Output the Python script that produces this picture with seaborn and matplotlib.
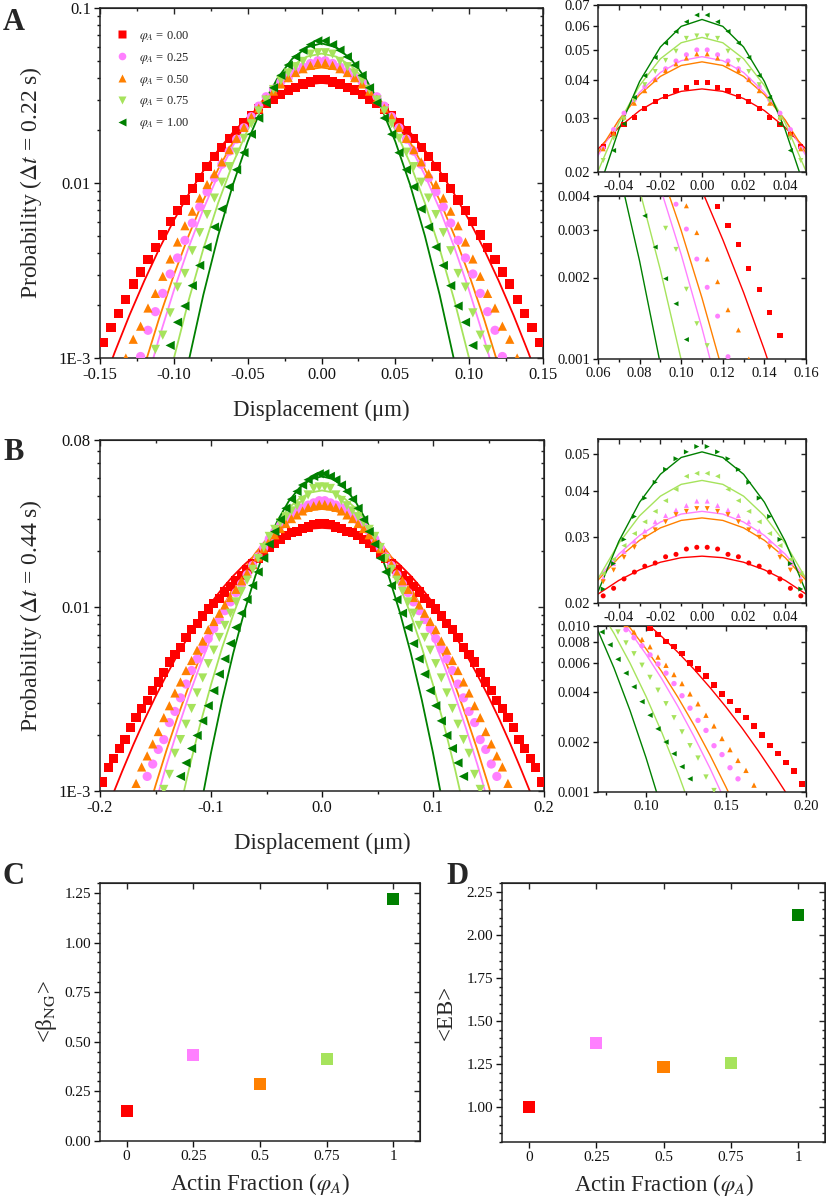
import matplotlib.pyplot as plt
import numpy as np
import pandas as pd
import seaborn as sns
from matplotlib.lines import Line2D
from matplotlib.ticker import FormatStrFormatter, LogLocator, MultipleLocator, NullFormatter

# ---- data ----------------------------------------------------------------
# The displacement histograms are symmetric, so only the x >= 0 half is kept
# (bin centres 0.0025, 0.0075, ... ; fit curves sampled at 0, 0.01, 0.02, ...)
phi_labels = ['0.00', '0.25', '0.50', '0.75', '1.00']
phi_values = [0, 0.25, 0.5, 0.75, 1]
colors = ['#ff0000', '#ff80ff', '#ff8000', '#a6e35c', '#008000']
BIN0, BIN_STEP, FIT_STEP = 0.0025, 0.005, 0.01

# panel A, dt = 0.22 s
red_A = [0.0391, 0.0378, 0.0368, 0.0353, 0.0340, 0.0321, 0.0302, 0.0285, 0.0265, 0.0243,
         0.0222, 0.0200, 0.0180, 0.0160, 0.0141, 0.0124, 0.0108, 0.0093, 0.0080, 0.00695,
         0.0060, 0.00505, 0.0043, 0.00365, 0.0031, 0.00265, 0.00216, 0.0018, 0.00149, 0.00122]
pink_A = [0.0500, 0.0482, 0.0460, 0.0434, 0.0400, 0.0379, 0.0344, 0.0311, 0.0275, 0.0239,
          0.0207, 0.0178, 0.0152, 0.0128, 0.0107, 0.0089, 0.0073, 0.0059, 0.0047, 0.00373,
          0.00302, 0.00234, 0.00184, 0.00144, 0.00102]
orange_A = [0.0485, 0.0470, 0.0450, 0.0428, 0.0400, 0.0368, 0.0335, 0.0302, 0.0268, 0.0238,
            0.0208, 0.0180, 0.0155, 0.0132, 0.0113, 0.0098, 0.0082, 0.0069, 0.0057, 0.0046,
            0.00368, 0.00293, 0.00234, 0.00193, 0.00152, 0.00128, 0.00100]
lgreen_A = [0.0555, 0.0545, 0.0495, 0.0462, 0.0425, 0.0385, 0.0342, 0.0298, 0.0258, 0.0218,
            0.0180, 0.0150, 0.0124, 0.0101, 0.0082, 0.0066, 0.0052, 0.0041, 0.00304, 0.00254,
            0.00181, 0.00135, 0.00112]
dgreen_A = [0.0649, 0.0617, 0.0574, 0.0526, 0.0472, 0.0412, 0.0350, 0.0287, 0.0235, 0.0190,
            0.0149, 0.0119, 0.0095, 0.0071, 0.0056, 0.0043, 0.00338, 0.00259, 0.00198, 0.0016,
            0.00118]

fit_red_A = [0.0373, 0.03663, 0.0347, 0.0317, 0.02793, 0.02374, 0.01946, 0.01539, 0.01173,
             0.00863, 0.00612, 0.00419, 0.00276, 0.00176, 0.00108, 0.00064]
fit_pink_A = [0.0475, 0.04611, 0.04218, 0.03636, 0.02953, 0.0226, 0.0163, 0.01108, 0.0071,
              0.00428, 0.00243, 0.0013, 0.000659]
fit_orange_A = [0.0457, 0.04447, 0.04097, 0.03574, 0.02953, 0.02309, 0.0171, 0.01199, 0.00796,
                0.005, 0.00298, 0.00168, 0.000896]
fit_lgreen_A = [0.0549, 0.05274, 0.04676, 0.03826, 0.02889, 0.02013, 0.01295, 0.00769, 0.00421,
                0.00213, 0.000993]
fit_dgreen_A = [0.0628, 0.05963, 0.05108, 0.03944, 0.02747, 0.01725, 0.00977, 0.00499, 0.0023,
                0.000955]

# panel B, dt = 0.44 s
red_B = [0.0282, 0.0279, 0.0270, 0.0266, 0.0256, 0.0251, 0.0242, 0.0232, 0.0219, 0.0209,
         0.0195, 0.0182, 0.0170, 0.0159, 0.0148, 0.0138, 0.0129, 0.0120, 0.0111, 0.0104,
         0.0097, 0.0089, 0.0081, 0.0075, 0.0068, 0.0060, 0.0055, 0.0050, 0.0044, 0.0039,
         0.0035, 0.0031, 0.0028, 0.0025, 0.0022, 0.0019, 0.0017, 0.0015, 0.00134, 0.00112]
pink_B = [0.0375, 0.0365, 0.0355, 0.0343, 0.0330, 0.0312, 0.0293, 0.0275, 0.0255, 0.0233,
          0.0208, 0.0186, 0.0167, 0.0149, 0.0133, 0.0119, 0.0106, 0.0095, 0.0085, 0.0076,
          0.0067, 0.0059, 0.0052, 0.0045, 0.0038, 0.0032, 0.0027, 0.00235, 0.0019, 0.00168,
          0.0014, 0.0012]
orange_B = [0.0358, 0.0352, 0.0345, 0.0330, 0.0314, 0.0300, 0.0282, 0.0265, 0.0245, 0.0228,
            0.0206, 0.0186, 0.0169, 0.0152, 0.0138, 0.0124, 0.0112, 0.0102, 0.0092, 0.0083,
            0.0075, 0.0065, 0.0058, 0.0051, 0.0045, 0.0039, 0.0034, 0.0029, 0.0025, 0.0021,
            0.0018, 0.00155, 0.00135, 0.0011]
lgreen_B = [0.0445, 0.0437, 0.0403, 0.0376, 0.0352, 0.0330, 0.0307, 0.0285, 0.0262, 0.0240,
            0.0209, 0.0182, 0.0159, 0.0139, 0.0121, 0.0106, 0.0092, 0.0079, 0.0068, 0.0058,
            0.0049, 0.0041, 0.0034, 0.0028, 0.0023, 0.0019, 0.0016, 0.00123, 0.00102]
dgreen_B = [0.0525, 0.0508, 0.0487, 0.0456, 0.0421, 0.0382, 0.0341, 0.0296, 0.0255, 0.0218,
            0.0183, 0.0154, 0.0130, 0.0109, 0.0092, 0.0077, 0.0063, 0.0052, 0.0043, 0.0035,
            0.0029, 0.0024, 0.0020, 0.0017, 0.00142, 0.0012]

fit_red_B = [0.0267, 0.02645, 0.02572, 0.02454, 0.02299, 0.02113, 0.01906, 0.01687, 0.01466,
             0.01251, 0.01047, 0.0086, 0.00694, 0.00549, 0.00426, 0.00325, 0.00243, 0.00178,
             0.00128, 0.000908, 0.000631]
fit_pink_B = [0.0352, 0.03462, 0.03295, 0.03034, 0.02703, 0.0233, 0.01943, 0.01568, 0.01224,
              0.00925, 0.00676, 0.00478, 0.00327, 0.00216, 0.00139, 0.000859]
fit_orange_B = [0.0338, 0.03329, 0.03179, 0.02944, 0.02645, 0.02303, 0.01946, 0.01594, 0.01266,
                0.00976, 0.00729, 0.00528, 0.00371, 0.00253, 0.00167, 0.00107, 0.000666]
fit_lgreen_B = [0.0426, 0.04158, 0.03866, 0.03425, 0.0289, 0.02324, 0.0178, 0.01299, 0.00903,
                0.00598, 0.00377, 0.00227, 0.0013, 0.000708]
fit_dgreen_B = [0.0508, 0.04908, 0.04425, 0.03724, 0.02925, 0.02144, 0.01467, 0.00937, 0.00558,
                0.0031, 0.00161, 0.000781]

# panels C and D
beta_ng = [0.152, 0.431, 0.287, 0.411, 1.217]
eb = [1.003, 1.376, 1.235, 1.255, 2.115]

# ---- style ---------------------------------------------------------------
sns.set_style('ticks')
plt.rcParams['font.family'] = ['Liberation Serif', 'DejaVu Serif']
plt.rcParams['mathtext.fontset'] = 'stix'
plt.rcParams['axes.unicode_minus'] = False
plt.rcParams['axes.edgecolor'] = '#222222'
palette = dict(zip(phi_labels, colors))
main_markers = ['s', 'o', '^', 'v', '<']
insetB_markers = ['o', '^', 'v', '<', '>']


def mirror(half, first, step):
    x = first + step * np.arange(len(half))
    y = np.asarray(half, dtype=float)
    if first == 0:
        return np.r_[-x[:0:-1], x], np.r_[y[:0:-1], y]
    return np.r_[-x[::-1], x], np.r_[y[::-1], y]


def table(halves, first, step):
    frames = []
    for lab, half in zip(phi_labels, halves):
        x, y = mirror(half, first, step)
        frames.append(pd.DataFrame({'x': x, 'p': y, 'phi': lab}))
    return pd.concat(frames, ignore_index=True)


pts_A = table([red_A, pink_A, orange_A, lgreen_A, dgreen_A], BIN0, BIN_STEP)
fits_A = table([fit_red_A, fit_pink_A, fit_orange_A, fit_lgreen_A, fit_dgreen_A], 0.0, FIT_STEP)
pts_B = table([red_B, pink_B, orange_B, lgreen_B, dgreen_B], BIN0, BIN_STEP)
fits_B = table([fit_red_B, fit_pink_B, fit_orange_B, fit_lgreen_B, fit_dgreen_B], 0.0, FIT_STEP)


def draw(ax, pts, fits, mks, size, lw):
    sns.lineplot(data=fits, x='x', y='p', hue='phi', hue_order=phi_labels, palette=palette,
                 estimator=None, sort=False, lw=lw, legend=False, ax=ax)
    sns.scatterplot(data=pts, x='x', y='p', hue='phi', style='phi', hue_order=phi_labels,
                    style_order=phi_labels, palette=palette,
                    markers=dict(zip(phi_labels, mks)), s=size, linewidth=0,
                    legend=False, ax=ax, zorder=3)
    ax.set_yscale('log')
    ax.set_xlabel('')
    ax.set_ylabel('')


def frame(ax, fs, major=4.5, minor=2.5):
    """Origin-like frame: ticks out on left/bottom, in on top/right."""
    for s in ax.spines.values():
        s.set_linewidth(1.1)
    ax.tick_params(which='both', direction='out', top=False, right=False, width=1.0,
                   labelsize=fs, pad=2, colors='#111111')
    ax.tick_params(which='major', length=major)
    ax.tick_params(which='minor', length=minor)
    top = ax.secondary_xaxis('top')
    top.set_xticks(ax.get_xticks())
    top.set_xticks(ax.get_xticks(minor=True), minor=True)
    top.tick_params(which='both', direction='in', labeltop=False, width=1.0)
    top.tick_params(which='major', length=major)
    top.tick_params(which='minor', length=minor)
    right = ax.secondary_yaxis('right')
    right.set_yticks(ax.get_yticks())
    right.set_yticks(ax.get_yticks(minor=True), minor=True)
    right.tick_params(which='both', direction='in', labelright=False, width=1.0)
    right.tick_params(which='major', length=major)
    right.tick_params(which='minor', length=minor)


fig = plt.figure(figsize=(8.26, 12), dpi=100)
W, H = 826, 1200


def box(l, t, r, b):
    return [l / W, 1 - b / H, (r - l) / W, (b - t) / H]


# ---- panel A main ---------------------------------------------------------
ax = fig.add_axes(box(100, 8, 543, 358))
draw(ax, pts_A, fits_A, main_markers, 44, 1.3)
ax.set_xlim(-0.15, 0.15)
ax.set_ylim(1e-3, 0.1)
ax.set_xticks([-0.15, -0.10, -0.05, 0, 0.05, 0.10, 0.15])
ax.xaxis.set_major_formatter(FormatStrFormatter('%.2f'))
ax.xaxis.set_minor_locator(MultipleLocator(0.025))
ax.set_yticks([1e-3, 1e-2, 1e-1], ['1E-3', '0.01', '0.1'])
ax.yaxis.set_minor_locator(LogLocator(subs=np.arange(2, 10)))
ax.yaxis.set_minor_formatter(NullFormatter())
ax.set_xlabel('Displacement (μm)', fontsize=16.5)
ax.set_ylabel(r'Probability ($\mathit{\Delta t}$ = 0.22 s)', fontsize=17)
ax.xaxis.set_label_coords(0.5, -0.12)
ax.yaxis.set_label_coords(-0.127, 0.5)
frame(ax, 12)
handles = [Line2D([], [], ls='none', marker=m, color=c, mec='none', ms=5.5)
           for m, c in zip(main_markers, colors)]
ax.legend(handles, [r'$\varphi_A$ = ' + lab for lab in phi_labels], loc='upper left',
          bbox_to_anchor=(0.025, 0.955), frameon=False, fontsize=9, handlelength=1.0,
          handletextpad=0.8, labelspacing=0.55, borderaxespad=0)

# inset A top
ax = fig.add_axes(box(598, 5, 806, 172))
draw(ax, pts_A, fits_A, main_markers, 13, 1.0)
ax.set_xlim(-0.05, 0.05)
ax.set_ylim(0.02, 0.07)
ax.set_xticks([-0.04, -0.02, 0, 0.02, 0.04])
ax.xaxis.set_major_formatter(FormatStrFormatter('%.2f'))
ax.xaxis.set_minor_locator(MultipleLocator(0.01))
ax.set_yticks([0.02, 0.03, 0.04, 0.05, 0.06, 0.07])
ax.yaxis.set_major_formatter(FormatStrFormatter('%.2f'))
ax.yaxis.set_minor_formatter(NullFormatter())
ax.yaxis.set_minor_locator(MultipleLocator(1.0))
frame(ax, 10.5, 3.5, 2)

# inset A bottom
ax = fig.add_axes(box(598, 196, 806, 359))
draw(ax, pts_A, fits_A, main_markers, 13, 1.0)
ax.set_xlim(0.06, 0.16)
ax.set_ylim(0.001, 0.004)
ax.set_xticks([0.06, 0.08, 0.10, 0.12, 0.14, 0.16])
ax.xaxis.set_major_formatter(FormatStrFormatter('%.2f'))
ax.xaxis.set_minor_locator(MultipleLocator(0.01))
ax.set_yticks([0.001, 0.002, 0.003, 0.004])
ax.yaxis.set_major_formatter(FormatStrFormatter('%.3f'))
ax.yaxis.set_minor_formatter(NullFormatter())
ax.yaxis.set_minor_locator(MultipleLocator(1.0))
frame(ax, 10.5, 3.5, 2)

# ---- panel B main ---------------------------------------------------------
ax = fig.add_axes(box(100, 440, 544, 791))
draw(ax, pts_B, fits_B, main_markers, 44, 1.3)
ax.set_xlim(-0.2, 0.2)
ax.set_ylim(1e-3, 0.08)
ax.set_xticks([-0.2, -0.1, 0, 0.1, 0.2])
ax.xaxis.set_major_formatter(FormatStrFormatter('%.1f'))
ax.xaxis.set_minor_locator(MultipleLocator(0.05))
ax.set_yticks([1e-3, 1e-2, 0.08], ['1E-3', '0.01', '0.08'])
ax.yaxis.set_minor_locator(LogLocator(subs=np.arange(2, 10)))
ax.yaxis.set_minor_formatter(NullFormatter())
ax.set_xlabel('Displacement (μm)', fontsize=16.5)
ax.set_ylabel(r'Probability ($\mathit{\Delta t}$ = 0.44 s)', fontsize=17)
ax.xaxis.set_label_coords(0.5, -0.12)
ax.yaxis.set_label_coords(-0.127, 0.5)
frame(ax, 12)

# inset B top
ax = fig.add_axes(box(598, 439, 806, 603))
draw(ax, pts_B, fits_B, insetB_markers, 13, 1.0)
ax.set_xlim(-0.05, 0.05)
ax.set_ylim(0.02, 0.055)
ax.set_xticks([-0.04, -0.02, 0, 0.02, 0.04])
ax.xaxis.set_major_formatter(FormatStrFormatter('%.2f'))
ax.xaxis.set_minor_locator(MultipleLocator(0.01))
ax.set_yticks([0.02, 0.03, 0.04, 0.05])
ax.yaxis.set_major_formatter(FormatStrFormatter('%.2f'))
ax.yaxis.set_minor_formatter(NullFormatter())
ax.yaxis.set_minor_locator(MultipleLocator(1.0))
frame(ax, 10.5, 3.5, 2)

# inset B bottom
ax = fig.add_axes(box(598, 626, 806, 792))
draw(ax, pts_B, fits_B, main_markers, 15, 1.0)
ax.set_xlim(0.07, 0.20)
ax.set_ylim(0.001, 0.010)
ax.set_xticks([0.10, 0.15, 0.20])
ax.xaxis.set_major_formatter(FormatStrFormatter('%.2f'))
ax.xaxis.set_minor_locator(MultipleLocator(0.025))
ax.set_yticks([0.001, 0.002, 0.004, 0.006, 0.008, 0.010])
ax.yaxis.set_major_formatter(FormatStrFormatter('%.3f'))
ax.yaxis.set_minor_formatter(NullFormatter())
ax.yaxis.set_minor_locator(MultipleLocator(1.0))
frame(ax, 10.5, 3.5, 2)

# ---- panels C and D -------------------------------------------------------
summary = pd.DataFrame({'phi': phi_labels, 'fraction': phi_values, 'beta': beta_ng, 'eb': eb})
for col, rect, ylim, yticks, ylab, ycoord in [
    ('beta', box(100, 883, 420, 1141), (0, 1.3), np.arange(0, 1.26, 0.25),
     r'<β$_{\mathrm{NG}}$>', -0.128),
    ('eb', box(502, 883, 825, 1142), (0.8, 2.3), np.arange(1.0, 2.26, 0.25), '<EB>', -0.14),
]:
    ax = fig.add_axes(rect)
    sns.scatterplot(data=summary, x='fraction', y=col, hue='phi', hue_order=phi_labels,
                    palette=palette, marker='s', s=75, linewidth=0, legend=False, ax=ax)
    ax.set_xlim(-0.1, 1.1)
    ax.set_ylim(*ylim)
    ax.set_xticks(phi_values, ['0', '0.25', '0.5', '0.75', '1'])
    ax.set_yticks(yticks)
    ax.yaxis.set_major_formatter(FormatStrFormatter('%.2f'))
    ax.yaxis.set_minor_locator(MultipleLocator(0.05))
    ax.set_xlabel(r'Actin Fraction ($\varphi_A$)', fontsize=16.5)
    ax.set_ylabel(ylab, fontsize=16.5)
    ax.xaxis.set_label_coords(0.5, -0.115)
    ax.yaxis.set_label_coords(ycoord, 0.5)
    frame(ax, 11)

# panel letters
for letter, x, y in [('A', 3, 22), ('B', 3, 452), ('C', 3, 876), ('D', 446, 876)]:
    fig.text(x / W, 1 - y / H, letter, fontsize=22, fontweight='bold', va='center', ha='left')

fig.savefig('out.png', dpi=100)
plt.close(fig)
